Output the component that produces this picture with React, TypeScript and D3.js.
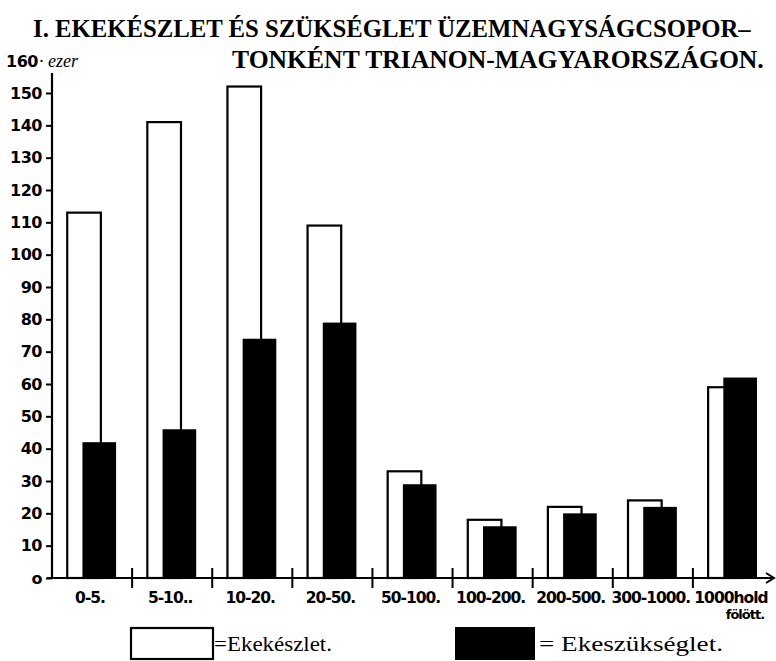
import React, {useEffect, useRef} from "react";
import * as d3 from "d3";

// Üzemnagyságcsoportok (hold)
const categories = ["0-5", "5-10", "10-20", "20-50", "50-100", "100-200", "200-500", "500-1000", "1000-"];
const categoryLabels = [["0-5."], ["5-10.."], ["10-20."], ["20-50."], ["50-100."], ["100-200."], ["200-500."], ["300-1000."], ["1000hold", "fölött."]];

// ezer darab
const ekekeszlet = [113, 141, 152, 109, 33, 18, 22, 24, 59];
const ekeszukseglet = [42, 46, 74, 79, 29, 16, 20, 22, 62];

const yTicks = [0, 10, 20, 30, 40, 50, 60, 70, 80, 90, 100, 110, 120, 130, 140, 150];
const yTopLabel = 160;

const titleLines = [
	"I. EKEKÉSZLET ÉS  SZÜKSÉGLET ÜZEMNAGYSÁGCSOPOR–",
	"TONKÉNT TRIANON-MAGYARORSZÁGON.",
];
const legendLabels = ["=Ekekészlet.", "= Ekeszükséglet."];

const W = 776;
const H = 661;
const titleFont = "'Liberation Serif', 'DejaVu Serif', serif";
const tickFont = "'DejaVu Sans', sans-serif";

// squeeze a text horizontally so it spans exactly `width` px
const fitText = (
	parent: d3.Selection<SVGSVGElement | null, unknown, null, undefined>,
	str: string,
	x: number,
	y: number,
	width: number,
	size: number,
	bold: boolean
) => {
	const t = parent
		.append("text")
		.attr("x", 0)
		.attr("y", 0)
		.style("font-family", titleFont)
		.style("font-size", `${size}px`)
		.style("font-weight", bold ? "bold" : "normal")
		.style("fill", "#000")
		.text(str);
	const natural = (t.node() as SVGTextElement).getComputedTextLength() || width;
	t.attr("transform", `translate(${x},${y}) scale(${width / natural},1)`);
	return t;
};

const App: React.FC = () => {
	const svgRef = useRef<SVGSVGElement>(null);

	useEffect(() => {
		document.body.style.margin = "0";
		const svg = d3.select(svgRef.current);
		svg.selectAll("*").remove();

		const x = d3.scaleBand().domain(categories).range([52, 773]).padding(0);
		const y = d3.scaleLinear().domain([0, 150]).range([578, 93]);
		const bw = x.bandwidth();

		svg.append("rect").attr("width", W).attr("height", H).attr("fill", "#fff");

		// Title
		fitText(svg, titleLines[0], 33, 37, 718, 26, true);
		fitText(svg, titleLines[1], 232, 68, 532, 26, true);

		// Bars
		const g = svg.append("g");
		g.selectAll(".white")
			.data(ekekeszlet)
			.enter()
			.append("rect")
			.attr("class", "white")
			.attr("x", (_, i) => (x(categories[i]) as number) + bw * 0.19)
			.attr("y", (d) => y(d))
			.attr("width", bw * 0.42)
			.attr("height", (d) => y(0) - y(d))
			.attr("fill", "#fff")
			.attr("stroke", "#000")
			.attr("stroke-width", 2.2);

		g.selectAll(".black")
			.data(ekeszukseglet)
			.enter()
			.append("rect")
			.attr("class", "black")
			.attr("x", (_, i) => (x(categories[i]) as number) + bw * 0.38)
			.attr("y", (d) => y(d))
			.attr("width", bw * 0.42)
			.attr("height", (d) => y(0) - y(d))
			.attr("fill", "#000");

		// Y axis
		const yAxis = svg
			.append("g")
			.attr("transform", "translate(52,0)")
			.call(d3.axisLeft(y).tickValues(yTicks).tickSize(6).tickPadding(4));
		yAxis.select(".domain").remove();
		yAxis.selectAll(".tick line").attr("stroke", "#000").attr("stroke-width", 2);
		yAxis
			.selectAll(".tick text")
			.attr("fill", "#000")
			.style("font-family", tickFont)
			.style("font-size", "16px")
			.style("font-weight", "bold")
			.style("letter-spacing", "-0.5px")
			.text((d) => ((d as number) === 0 ? "o" : String(d)));

		svg
			.append("line")
			.attr("x1", 52)
			.attr("x2", 52)
			.attr("y1", y(0) + 1)
			.attr("y2", 73)
			.attr("stroke", "#000")
			.attr("stroke-width", 2.2);

		svg
			.append("text")
			.attr("x", 6)
			.attr("y", y(yTopLabel) + 6)
			.style("font-family", tickFont)
			.style("font-size", "16px")
			.style("font-weight", "bold")
			.style("letter-spacing", "-0.5px")
			.text(String(yTopLabel));
		svg
			.append("text")
			.attr("x", 39)
			.attr("y", y(yTopLabel) + 6)
			.style("font-family", titleFont)
			.style("font-size", "18px")
			.style("font-style", "italic")
			.text("· ezer");

		// X axis
		svg
			.append("line")
			.attr("x1", 47)
			.attr("x2", 772)
			.attr("y1", y(0))
			.attr("y2", y(0))
			.attr("stroke", "#000")
			.attr("stroke-width", 2.2);
		svg
			.append("path")
			.attr("d", `M766,${y(0) - 5} L774,${y(0)} L766,${y(0) + 5}`)
			.attr("fill", "none")
			.attr("stroke", "#000")
			.attr("stroke-width", 2);

		svg
			.selectAll(".xtick")
			.data(categories.slice(1))
			.enter()
			.append("line")
			.attr("class", "xtick")
			.attr("x1", (d) => x(d) as number)
			.attr("x2", (d) => x(d) as number)
			.attr("y1", y(0) - 10)
			.attr("y2", y(0) + 10)
			.attr("stroke", "#000")
			.attr("stroke-width", 2);

		const xl = svg
			.selectAll(".xlabel")
			.data(categoryLabels)
			.enter()
			.append("text")
			.attr("class", "xlabel")
			.attr("text-anchor", "middle")
			.style("font-family", tickFont)
			.style("font-size", "15.5px")
			.style("font-weight", "bold")
			.style("letter-spacing", "-1px");
		xl.selectAll("tspan")
			.data((d, i) => d.map((s) => ({s, i})))
			.enter()
			.append("tspan")
			.attr("x", (d) => (x(categories[d.i]) as number) + bw / 2 - 2 + (d.i === 8 && d.s.startsWith("f") ? 14 : 0))
			.attr("y", (_, j) => 603 + j * 16)
			.style("font-size", (_, j) => (j > 0 ? "13px" : null))
			.text((d) => d.s);

		// Legend
		svg
			.append("rect")
			.attr("x", 131)
			.attr("y", 628)
			.attr("width", 82)
			.attr("height", 31)
			.attr("fill", "#fff")
			.attr("stroke", "#000")
			.attr("stroke-width", 2.2);
		fitText(svg, legendLabels[0], 214, 651, 118, 22, false);
		svg
			.append("rect")
			.attr("x", 455)
			.attr("y", 627)
			.attr("width", 80)
			.attr("height", 33)
			.attr("fill", "#000");
		fitText(svg, legendLabels[1], 539, 651, 184, 22, false);
	}, []);

	return <svg ref={svgRef} width={W} height={H} style={{display: "block"}} />;
};

export default App;
